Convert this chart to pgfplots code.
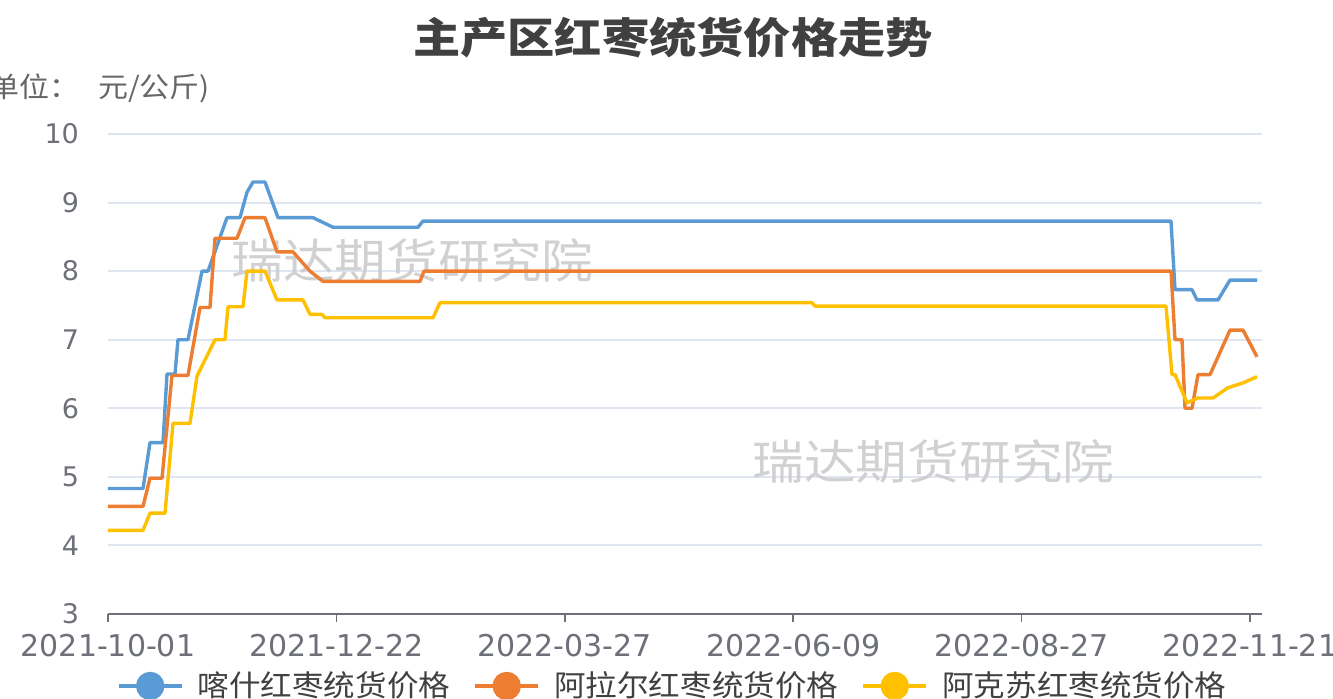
\documentclass[border=0pt]{standalone}
\usepackage{fontspec}
\setmainfont{DejaVu Sans}
\newfontfamily\cjk{Noto Sans CJK SC}[FakeStretch=1.07]
\newfontfamily\cjktitle{Noto Sans CJK SC}[FakeStretch=1.125]
\newfontfamily\cjkwm{Noto Sans CJK SC}[FakeStretch=1.1]
\usepackage{pgfplots}
\pgfplotsset{compat=1.18}
\definecolor{cblue}{HTML}{5B9BD5}
\definecolor{corange}{HTML}{ED7D31}
\definecolor{cyellow}{HTML}{FFC000}
\definecolor{axgray}{HTML}{6E7079}
\definecolor{gridc}{HTML}{E0E6F1}
\definecolor{titlec}{HTML}{404040}
\begin{document}
\begin{tikzpicture}
\begin{axis}[
  name=ax,
  scale only axis,
  width=577pt, height=240pt,
  xmin=108, xmax=1262, ymin=3, ymax=10,
  clip=false,
  axis x line*=bottom, axis y line*=left,
  x axis line style={draw=axgray, line width=1pt},
  y axis line style={draw=none},
  xtick={108,336.4,564.8,793.2,1021.6,1250},
  xticklabels={2021-10-01,2021-12-22,2022-03-27,2022-06-09,2022-08-27,2022-11-21},
  ytick={3,4,5,6,7,8,9,10},
  tick align=outside,
  major tick length=4pt,
  xtick style={draw=axgray, line width=0.8pt},
  ytick style={draw=none},
  ymajorgrids,
  major grid style={draw=gridc, line width=1pt},
  xticklabel style={font=\fontsize{15pt}{18pt}\selectfont, text=axgray, yshift=-2.5pt},
  yticklabel style={font=\fontsize{13.5pt}{16pt}\selectfont, text=axgray, xshift=-7pt},
  /pgf/number format/assume math mode=true,
  legend columns=3,
  legend style={at={(axis description cs:0.002,-0.15)}, anchor=west, draw=none, fill=none,
    font=\cjk\fontsize{14.75pt}{17pt}\selectfont, text=titlec,
    /tikz/every odd column/.append style={column sep=5pt},
    /tikz/every even column/.append style={column sep=9.5pt}},
  legend image code/.code={\draw[line width=2pt] (0pt,0pt) -- (31.5pt,0pt); \fill (15.75pt,0pt) circle (6.25pt);},
]
\node[font=\cjkwm\fontsize{23.5pt}{28pt}\selectfont, text=black!20, opacity=0.9] at (axis cs:412.5,8.15) {瑞达期货研究院};
\node[font=\cjkwm\fontsize{23.5pt}{28pt}\selectfont, text=black!20, opacity=0.9] at (axis cs:933.5,5.23) {瑞达期货研究院};

\addplot[color=cblue, line width=1.7pt, line join=round] coordinates {
(108,4.83) (143,4.83) (150,5.5) (163,5.5) (167,6.5) (175,6.5) (178,7.0) (188,7.0) (202,8.0) (208,8.0) (227,8.78) (240,8.78) (247,9.15) (253,9.3) (265,9.3) (278,8.78) (313,8.78) (333,8.64) (418,8.64) (423,8.73) (1171,8.73) (1175,7.73) (1192,7.73) (1197,7.58) (1218,7.58) (1230,7.87) (1257,7.87)
};
\addlegendentry{喀什红枣统货价格}
\addplot[color=corange, line width=1.7pt, line join=round] coordinates {
(108,4.57) (143,4.57) (150,4.98) (162,4.98) (172,6.48) (188,6.48) (200,7.47) (210,7.47) (215,8.48) (237,8.48) (245,8.78) (265,8.78) (277,8.28) (293,8.28) (310,8.0) (323,7.85) (420,7.85) (424,8.0) (1171,8.0) (1175,7.0) (1182,7.0) (1185,6.0) (1192,6.0) (1198,6.49) (1210,6.49) (1230,7.14) (1243,7.14) (1257,6.75)
};
\addlegendentry{阿拉尔红枣统货价格}
\addplot[color=cyellow, line width=1.7pt, line join=round] coordinates {
(108,4.22) (143,4.22) (150,4.47) (165,4.47) (173,5.78) (190,5.78) (197,6.47) (215,7.0) (225,7.0) (228,7.48) (243,7.48) (247,8.0) (265,8.0) (277,7.58) (303,7.58) (310,7.37) (322,7.37) (325,7.32) (433,7.32) (440,7.54) (812,7.54) (815,7.49) (1166,7.49) (1172,6.49) (1175,6.49) (1187,6.08) (1198,6.15) (1213,6.15) (1220,6.22) (1228,6.3) (1243,6.37) (1257,6.46)
};
\addlegendentry{阿克苏红枣统货价格}

\node[font=\cjktitle\bfseries\fontsize{21pt}{25pt}\selectfont, text=titlec] at (axis description cs:0.4896,1.2) {主产区红枣统货价格走势};
\node[anchor=east, font=\cjk\fontsize{14pt}{17pt}\selectfont, text=black!60] at (axis description cs:0.0945,1.0958) {(单位：\hspace{9.5pt}元/公斤)};
\end{axis}
\pgfresetboundingbox
\path[use as bounding box] ([shift={(-54pt,-42.5pt)}]ax.south west) rectangle ([shift={(612.5pt,307pt)}]ax.south west);
\end{tikzpicture}
\end{document}
